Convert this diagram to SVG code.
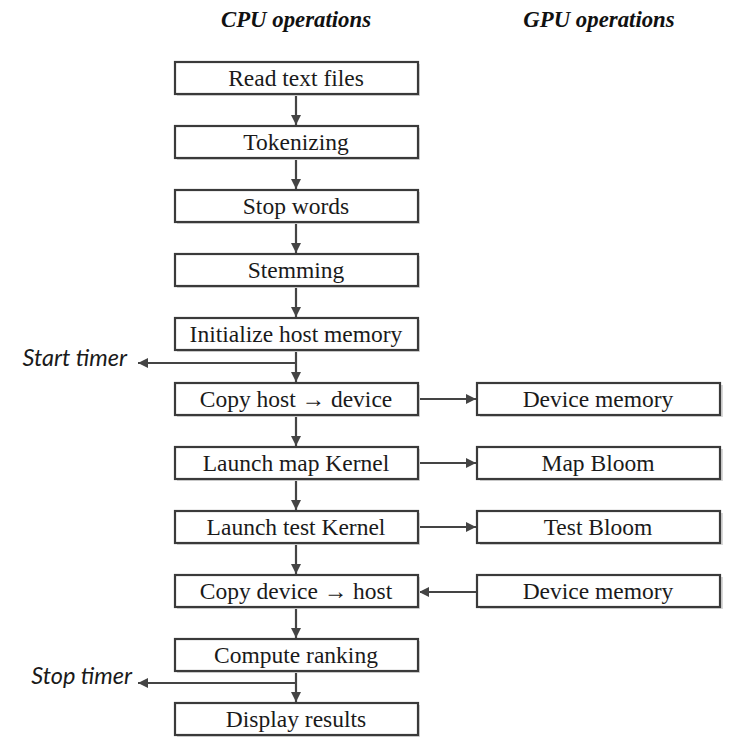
<svg xmlns="http://www.w3.org/2000/svg" width="747" height="738" viewBox="0 0 747 738">
<defs>
<style>
.box{fill:#fff;stroke:#3a3a3a;stroke-width:2.2}
.sh{fill:#d8d8d8}
.lbl{font-family:"Liberation Serif","Times New Roman",serif;font-size:23.5px;fill:#1a1a1a;text-anchor:middle}
.hdr{font-family:"Liberation Serif","Times New Roman",serif;font-size:22.8px;font-weight:bold;font-style:italic;fill:#111;text-anchor:middle}
.tmr{font-family:Lato,"Open Sans",sans-serif;font-size:23.5px;font-style:italic;fill:#1a1a1a;text-anchor:end}
.con{stroke:#444;stroke-width:2.2;fill:none}
</style>
<marker id="ah" markerWidth="10" markerHeight="10" viewBox="0 0 10 10" refX="10" refY="5" orient="auto" markerUnits="userSpaceOnUse">
<path d="M0,0 L10,5 L0,10 z" fill="#444"/>
</marker>
</defs>
<rect width="747" height="738" fill="#fff"/>
<text class="hdr" x="296" y="27">CPU operations</text>
<text class="hdr" x="599" y="27">GPU operations</text>

<g id="connectors">
<line class="con" x1="296" y1="95" x2="296" y2="125" marker-end="url(#ah)"/>
<line class="con" x1="296" y1="159" x2="296" y2="189" marker-end="url(#ah)"/>
<line class="con" x1="296" y1="223" x2="296" y2="253" marker-end="url(#ah)"/>
<line class="con" x1="296" y1="287" x2="296" y2="317" marker-end="url(#ah)"/>
<line class="con" x1="296" y1="351" x2="296" y2="382" marker-end="url(#ah)"/>
<line class="con" x1="296" y1="416" x2="296" y2="446" marker-end="url(#ah)"/>
<line class="con" x1="296" y1="480" x2="296" y2="510" marker-end="url(#ah)"/>
<line class="con" x1="296" y1="544" x2="296" y2="574" marker-end="url(#ah)"/>
<line class="con" x1="296" y1="608" x2="296" y2="638" marker-end="url(#ah)"/>
<line class="con" x1="296" y1="672" x2="296" y2="702" marker-end="url(#ah)"/>
<line class="con" x1="296" y1="363" x2="138" y2="363" marker-end="url(#ah)"/>
<line class="con" x1="296" y1="683" x2="138" y2="683" marker-end="url(#ah)"/>
<line class="con" x1="419" y1="399" x2="476" y2="399" marker-end="url(#ah)"/>
<line class="con" x1="419" y1="463" x2="476" y2="463" marker-end="url(#ah)"/>
<line class="con" x1="419" y1="527" x2="476" y2="527" marker-end="url(#ah)"/>
<line class="con" x1="477" y1="592" x2="419" y2="592" marker-end="url(#ah)"/>
</g>

<text class="tmr" x="127" y="366">Start timer</text>
<text class="tmr" x="132" y="684">Stop timer</text>

<g id="n1"><rect class="sh" x="177" y="64" width="243" height="32"/><rect class="box" x="175" y="62" width="243" height="32"/><text class="lbl" x="296" y="86">Read text files</text></g>
<g id="n2"><rect class="sh" x="177" y="128" width="243" height="32"/><rect class="box" x="175" y="126" width="243" height="32"/><text class="lbl" x="296" y="150">Tokenizing</text></g>
<g id="n3"><rect class="sh" x="177" y="192" width="243" height="32"/><rect class="box" x="175" y="190" width="243" height="32"/><text class="lbl" x="296" y="214">Stop words</text></g>
<g id="n4"><rect class="sh" x="177" y="256" width="243" height="32"/><rect class="box" x="175" y="254" width="243" height="32"/><text class="lbl" x="296" y="278">Stemming</text></g>
<g id="n5"><rect class="sh" x="177" y="320" width="243" height="32"/><rect class="box" x="175" y="318" width="243" height="32"/><text class="lbl" x="296" y="342">Initialize host memory</text></g>
<g id="n6"><rect class="sh" x="177" y="385" width="243" height="32"/><rect class="box" x="175" y="383" width="243" height="32"/><text class="lbl" x="296" y="407">Copy host → device</text></g>
<g id="n7"><rect class="sh" x="177" y="449" width="243" height="32"/><rect class="box" x="175" y="447" width="243" height="32"/><text class="lbl" x="296" y="471">Launch map Kernel</text></g>
<g id="n8"><rect class="sh" x="177" y="513" width="243" height="32"/><rect class="box" x="175" y="511" width="243" height="32"/><text class="lbl" x="296" y="535">Launch test Kernel</text></g>
<g id="n9"><rect class="sh" x="177" y="577" width="243" height="32"/><rect class="box" x="175" y="575" width="243" height="32"/><text class="lbl" x="296" y="599">Copy device → host</text></g>
<g id="n10"><rect class="sh" x="177" y="641" width="243" height="32"/><rect class="box" x="175" y="639" width="243" height="32"/><text class="lbl" x="296" y="663">Compute ranking</text></g>
<g id="n11"><rect class="sh" x="177" y="705" width="243" height="32"/><rect class="box" x="175" y="703" width="243" height="32"/><text class="lbl" x="296" y="727">Display results</text></g>

<g id="g1"><rect class="sh" x="480" y="385" width="243" height="32"/><rect class="box" x="477" y="383" width="243" height="32"/><text class="lbl" x="598" y="407">Device memory</text></g>
<g id="g2"><rect class="sh" x="480" y="449" width="243" height="32"/><rect class="box" x="477" y="447" width="243" height="32"/><text class="lbl" x="598" y="471">Map Bloom</text></g>
<g id="g3"><rect class="sh" x="480" y="513" width="243" height="32"/><rect class="box" x="477" y="511" width="243" height="32"/><text class="lbl" x="598" y="535">Test Bloom</text></g>
<g id="g4"><rect class="sh" x="480" y="577" width="243" height="32"/><rect class="box" x="477" y="575" width="243" height="32"/><text class="lbl" x="598" y="599">Device memory</text></g>
</svg>
